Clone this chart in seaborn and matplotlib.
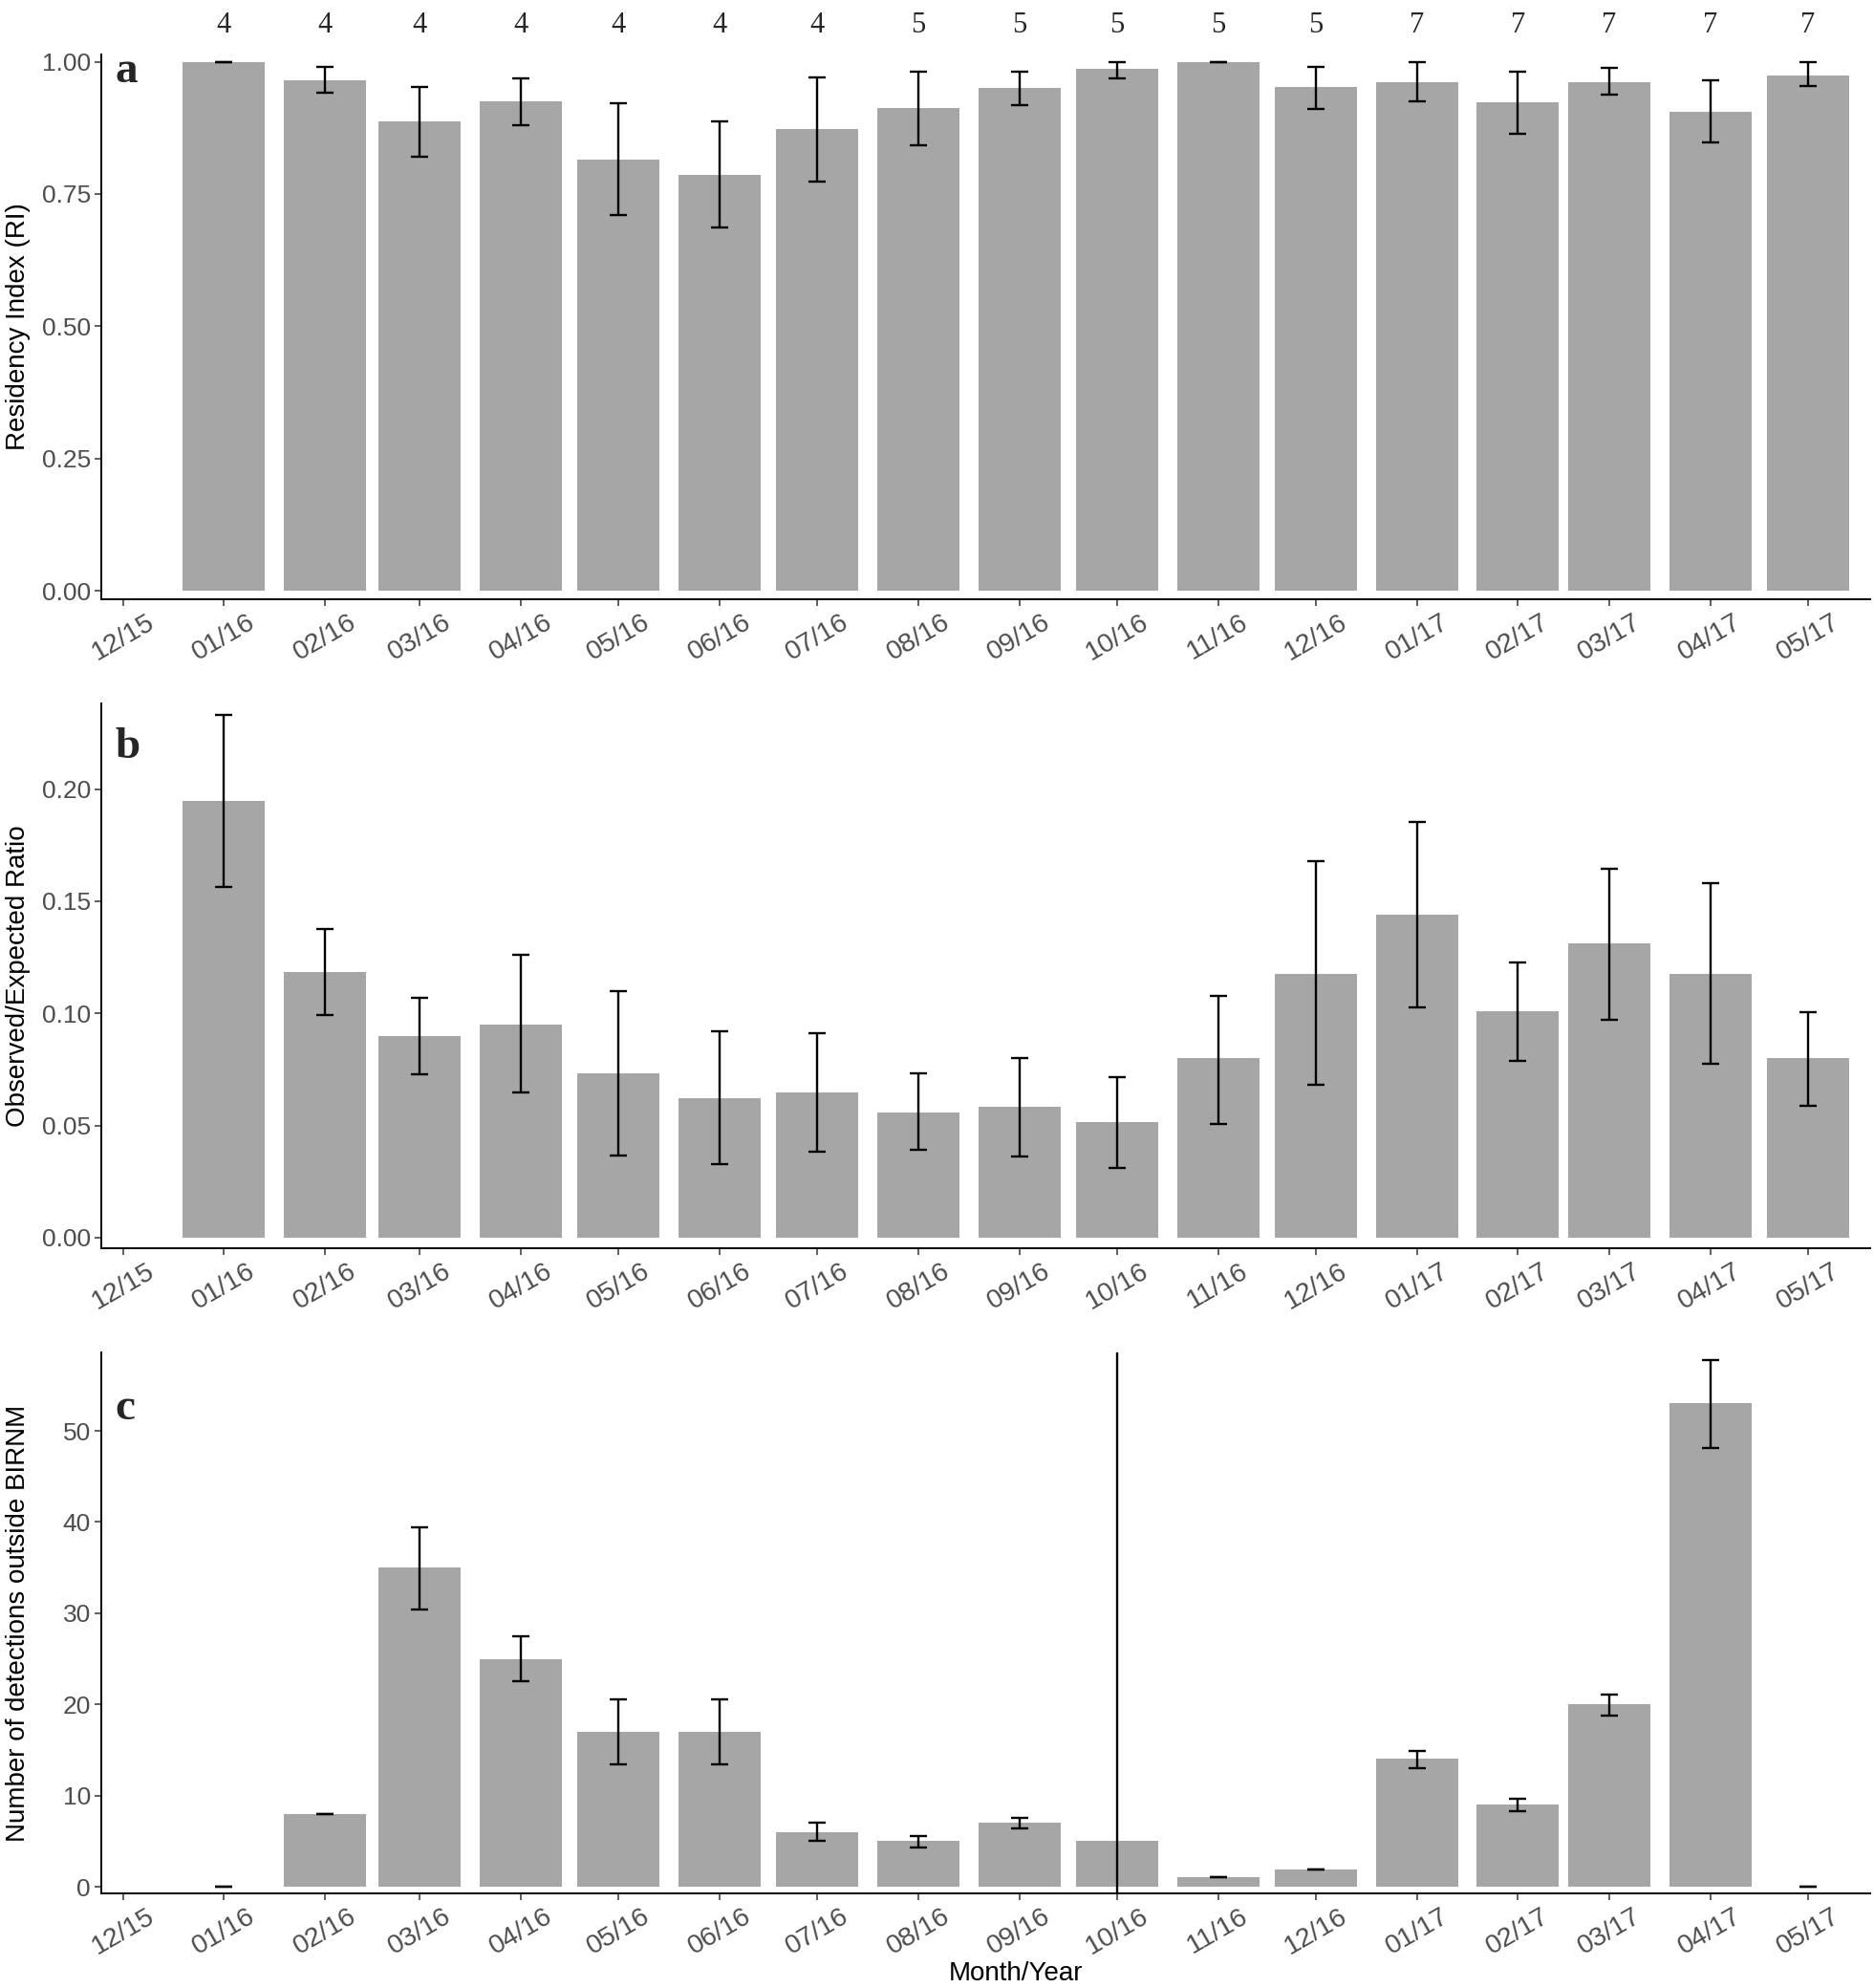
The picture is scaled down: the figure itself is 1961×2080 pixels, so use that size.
import numpy as np
import pandas as pd
import matplotlib
matplotlib.use("Agg")
import matplotlib.pyplot as plt
import matplotlib.dates as mdates
import matplotlib.transforms as mtransforms
import seaborn as sns

# months with data (bars) and the axis tick labels (incl. empty 12/15)
months = ["01/16", "02/16", "03/16", "04/16", "05/16", "06/16", "07/16", "08/16", "09/16",
          "10/16", "11/16", "12/16", "01/17", "02/17", "03/17", "04/17", "05/17"]
tick_labels = ["12/15"] + months

# number of receivers / individuals shown above panel a
n_counts = [4, 4, 4, 4, 4, 4, 4, 5, 5, 5, 5, 5, 7, 7, 7, 7, 7]

# panel a: residency index
residency = [1.0, 0.965, 0.887, 0.925, 0.815, 0.786, 0.872, 0.913, 0.950, 0.986, 1.0,
             0.952, 0.962, 0.923, 0.962, 0.906, 0.974]
residency_lo = [1.0, 0.941, 0.821, 0.880, 0.710, 0.687, 0.773, 0.842, 0.918, 0.968, 1.0,
                0.911, 0.925, 0.864, 0.937, 0.848, 0.954]
residency_hi = [1.0, 0.990, 0.952, 0.969, 0.921, 0.887, 0.970, 0.981, 0.981, 1.0, 1.0,
                0.990, 1.0, 0.981, 0.988, 0.965, 1.0]

# panel b: observed / expected ratio
ratio = [0.1947, 0.1184, 0.0901, 0.0949, 0.0733, 0.0624, 0.0647, 0.0560, 0.0583, 0.0516,
         0.0799, 0.1178, 0.1440, 0.1012, 0.1313, 0.1175, 0.0799]
ratio_lo = [0.1562, 0.0993, 0.0728, 0.0647, 0.0367, 0.0327, 0.0385, 0.0390, 0.0362, 0.0313,
            0.0509, 0.0682, 0.1028, 0.0790, 0.0973, 0.0777, 0.0587]
ratio_hi = [0.2329, 0.1375, 0.1071, 0.1260, 0.1101, 0.0921, 0.0912, 0.0735, 0.0802, 0.0716,
            0.1078, 0.1677, 0.1852, 0.1228, 0.1643, 0.1581, 0.1007]

# panel c: detections outside BIRNM (10/16 error bar runs off the panel)
detections = [0, 8, 35, 25, 17, 17, 6, 5, 7, 5, 1.1, 1.9, 14, 9, 20, 53, 0]
detections_lo = [0, 8, 30.4, 22.5, 13.4, 13.4, 5.06, 4.26, 6.41, -10, 1.0, 1.9, 13.0, 8.33,
                 18.73, 48.1, 0]
detections_hi = [0, 8, 39.4, 27.5, 20.55, 20.5, 6.98, 5.57, 7.58, 80, 1.0, 1.9, 14.9, 9.6,
                 21.07, 57.8, 0]

sns.set_style("ticks")
plt.rcParams["font.family"] = ["Liberation Sans", "DejaVu Sans"]

bar_dates = pd.date_range("2016-01-01", periods=len(months), freq="MS")
tick_dates = pd.date_range("2015-12-01", periods=len(tick_labels), freq="MS")
xnum = mdates.date2num(bar_dates)
tick_num = mdates.date2num(tick_dates)

fig = plt.figure(figsize=(19.61, 20.80), dpi=100)
left, width = 106 / 1961, (1957 - 106) / 1961
ax_a = fig.add_axes([left, 1 - 627 / 2080, width, 570 / 2080])
ax_b = fig.add_axes([left, 1 - 1306 / 2080, width, 569.5 / 2080])
ax_c = fig.add_axes([left, 1 - 1981 / 2080, width, 566 / 2080])

panels = [
    (ax_a, residency, residency_lo, residency_hi, "Residency Index (RI)",
     (-0.016, 1.0137), [0, 0.25, 0.5, 0.75, 1.0], "{:.2f}", "a", 0.949),
    (ax_b, ratio, ratio_lo, ratio_hi, "Observed/Expected Ratio",
     (-0.0047, 0.238), [0, 0.05, 0.10, 0.15, 0.20], "{:.2f}", "b", 0.901),
    (ax_c, detections, detections_lo, detections_hi, "Number of detections outside BIRNM",
     (-0.73, 58.6), [0, 10, 20, 30, 40, 50], "{:.0f}", "c", 0.876),
]

for ax, vals, lo, hi, ylab, ylim, yt, fmt, letter, ly in panels:
    sns.barplot(x=xnum, y=vals, native_scale=True, width=0.9, color="#a6a6a6",
                saturation=1, errorbar=None, linewidth=0, ax=ax)
    lo = np.array(lo)
    hi = np.array(hi)
    ax.errorbar(xnum, (lo + hi) / 2, yerr=(hi - lo) / 2, fmt="none", ecolor="black",
                elinewidth=1.7, capsize=6.5, capthick=1.7, zorder=3)
    ax.set_xlim(tick_num[0] - 6.65, xnum[-1] + 19.06)
    ax.set_ylim(*ylim)
    ax.set_xticks(tick_num)
    ax.set_xticklabels(tick_labels, rotation=30, ha="center")
    ax.set_yticks(yt)
    ax.set_yticklabels([fmt.format(v) for v in yt])
    ax.tick_params(length=5, width=1.1, color="#333333", labelcolor="#4d4d4d",
                   labelsize=19, pad=3)
    ax.tick_params(axis="x", labelsize=20.5)
    for s in ["left", "bottom"]:
        ax.spines[s].set_linewidth(1.4)
        ax.spines[s].set_color("black")
    sns.despine(ax=ax)
    ax.set_xlabel("")
    ax.set_ylabel(ylab, fontsize=20, color="black")
    ax.yaxis.set_label_coords(-0.040, 0.5)
    ax.text(0.008, ly, letter, transform=ax.transAxes, fontsize=34, fontweight="bold",
            family=["Liberation Serif", "DejaVu Serif"], va="baseline", ha="left")

# counts above the top panel
trans = mtransforms.blended_transform_factory(ax_a.transData, ax_a.transAxes)
for xv, n in zip(xnum, n_counts):
    ax_a.text(xv, 1.041, str(n), transform=trans, ha="center", va="baseline",
              fontsize=22, family=["Liberation Serif", "DejaVu Serif"], clip_on=False)

ax_c.set_xlabel("Month/Year", fontsize=20, color="black", va="top")
ax_c.xaxis.set_label_coords(0.517, -0.125)

fig.savefig("out.png", dpi=100)
